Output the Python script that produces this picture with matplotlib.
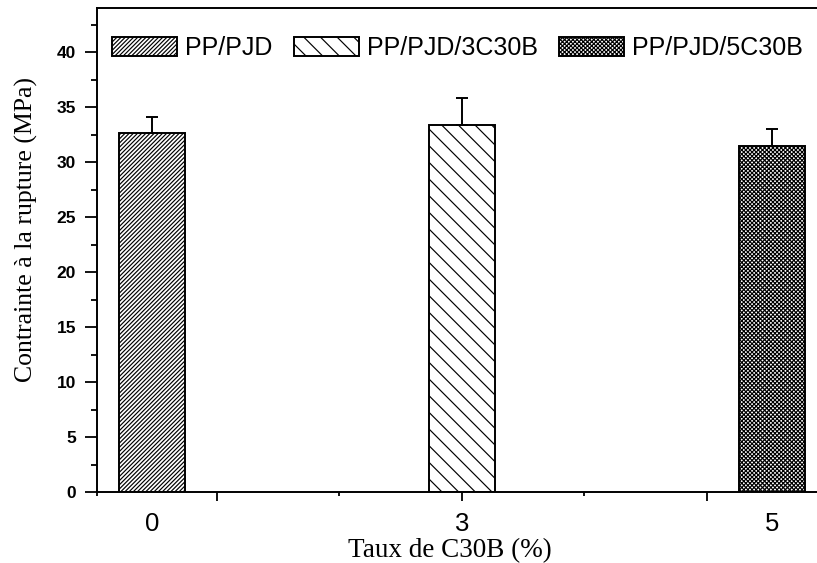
import matplotlib
matplotlib.use("Agg")
import numpy as np
import matplotlib.pyplot as plt
from matplotlib.ticker import FixedLocator
from matplotlib.font_manager import FontProperties

# Tensile strength at break for each clay loading
categories = ["0", "3", "5"]
series = ["PP/PJD", "PP/PJD/3C30B", "PP/PJD/5C30B"]
stress = [32.6, 33.4, 31.5]
stress_err = [1.5, 2.4, 1.5]
y_ticks = [0, 5, 10, 15, 20, 25, 30, 35, 40]
hatches = ["////////", "\\\\", "xxxxxxxx"]

plt.rcParams["font.family"] = ["Liberation Sans", "DejaVu Sans"]
plt.rcParams["hatch.linewidth"] = 0.85
plt.rcParams["hatch.color"] = "black"

W, H = 817, 563
fig = plt.figure(figsize=(W / 100, H / 100), dpi=100)
ax = fig.add_axes([97 / W, 1 - 492.3 / H, 731 / W, 484.3 / H])
ax.set_xlim(-0.177, 2.181)
ax.set_ylim(0, 44)

x = np.arange(len(categories))
for i in range(len(categories)):
    ax.bar(x[i], stress[i], width=0.213, color="white", edgecolor="black",
           linewidth=1.4, hatch=hatches[i], label=series[i], zorder=2)
ax.errorbar(x, stress, yerr=[[0] * len(stress), stress_err], fmt="none",
            ecolor="black", elinewidth=1.4, capsize=4.3, capthick=1.4, zorder=3)

for s in ax.spines.values():
    s.set_linewidth(1.4)

# y axis
ax.set_yticks(y_ticks)
ax.yaxis.set_minor_locator(FixedLocator(np.arange(2.5, 44, 5)))
ax.tick_params(axis="y", which="major", direction="out", length=8.5, width=1.3,
               pad=6.5, labelsize=12.5)
ax.tick_params(axis="y", which="minor", direction="out", length=4.5, width=1.3)
for lab in ax.get_yticklabels():
    lab.set_fontweight("bold")

# x axis: tick marks between groups, labels under the bars
ax.set_xticks([0.21, 1.0, 1.79])
ax.set_xticklabels([])
ax.xaxis.set_minor_locator(FixedLocator([-0.177, 0.605, 1.395]))
ax.tick_params(axis="x", which="major", direction="out", length=6.5, width=1.3)
ax.tick_params(axis="x", which="minor", direction="out", length=3, width=1.3)

sec = ax.secondary_xaxis("bottom")
sec.set_xticks(x, labels=categories)
sec.tick_params(length=0, pad=14, labelsize=18.5)
sec.spines["bottom"].set_visible(False)

ax.set_xlabel("Taux de C30B (%)", family="Liberation Serif", fontsize=19.5)
ax.xaxis.set_label_coords(0.483, -0.133)
ax.xaxis.label.set_verticalalignment("baseline")

ax.set_ylabel("Contrainte à la rupture (MPa)", family="Liberation Serif", fontsize=18.5)
ax.yaxis.set_label_coords((26 - 97) / 731, (492.3 - 229) / 484.3)
ax.yaxis.label.set_verticalalignment("center")
ax.yaxis.label.set_horizontalalignment("center")

ax.legend(loc="center left", bbox_to_anchor=(112 / W, 1 - 48 / H),
          bbox_transform=fig.transFigure, ncol=3, frameon=False,
          prop=FontProperties(family="Liberation Sans", size=18),
          handlelength=2.6, handleheight=0.8, handletextpad=0.32,
          columnspacing=0.85, borderpad=0, borderaxespad=0)

fig.savefig("out.png", dpi=100)
